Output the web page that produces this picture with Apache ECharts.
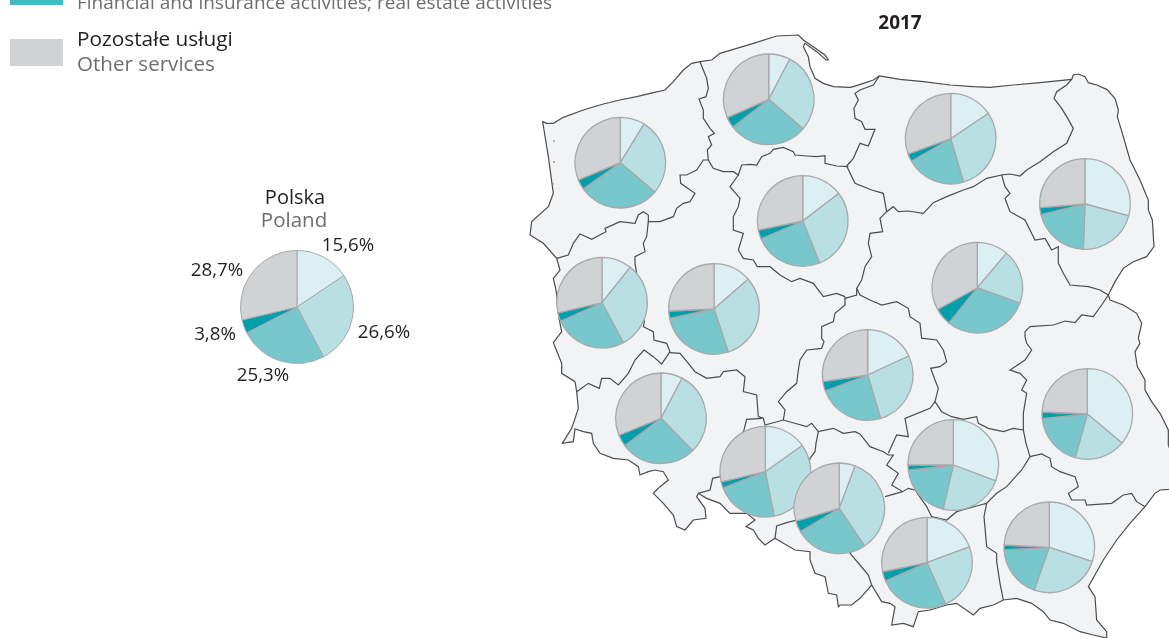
<!DOCTYPE html>
<html>
<head>
<meta charset="utf-8">
<title>Usługi 2017</title>
<style>
    html, body { margin: 0; padding: 0; background: #fff; }
    #chart { width: 1169px; height: 638px; }
</style>
<script src="https://cdn.jsdelivr.net/npm/echarts@6/dist/echarts.min.js"></script>
</head>
<body>
<div id="chart"></div>
<script>
    // udzialy w kolejnosci wskazowek zegara, od godziny 12
    const sectors = ['Sektor 1', 'Sektor 2', 'Sektor 3', 'Działalność finansowa i ubezpieczeniowa; obsługa rynku nieruchomości', 'Pozostałe usługi'];
    const sectorColors = ['#dceff2', '#b8e0e3', '#77c7cd', '#009fab', '#d0d2d4'];

    const poland = [15.6, 26.6, 25.3, 3.8, 28.7];

    const zachodniopomorskie = [8.8, 27.4, 29.0, 3.6, 31.2];
    const pomorskie = [7.7, 28.6, 28.2, 3.9, 31.6];
    const warminskoMazurskie = [15.6, 29.8, 21.4, 2.7, 30.5];
    const podlaskie = [29.2, 21.4, 20.6, 2.5, 26.3];
    const kujawskoPomorskie = [14.6, 29.3, 24.7, 3.2, 28.2];
    const mazowieckie = [11.2, 19.4, 30.2, 6.2, 33.0];
    const lubuskie = [10.7, 31.5, 26.1, 3.1, 28.6];
    const wielkopolskie = [13.6, 31.3, 26.8, 2.6, 25.7];
    const lodzkie = [18.1, 27.3, 23.9, 3.4, 27.3];
    const lubelskie = [36.1, 18.2, 19.1, 2.3, 24.3];
    const dolnoslaskie = [7.7, 30.0, 27.0, 4.2, 31.1];
    const opolskie = [15.2, 31.7, 22.3, 2.2, 28.6];
    const slaskie = [5.7, 34.9, 25.8, 4.0, 29.6];
    const swietokrzyskie = [30.7, 22.9, 19.6, 1.8, 25.0];
    const malopolskie = [19.3, 24.0, 25.1, 3.4, 28.2];
    const podkarpackie = [30.1, 25.3, 18.7, 1.7, 24.2];

    const crop = (ox, oy, pts) => pts.map(([x, y]) => [ox + x / 3, oy + y / 3]);
    const NW = (pts) => crop(520, 30, pts);
    const NE = (pts) => crop(840, 30, pts);
    const SW = (pts) => crop(520, 330, pts);
    const SE = (pts) => crop(840, 330, pts);

    const outline = [
        ...NW([[68, 275], [80, 280], [100, 280], [130, 262], [190, 240], [250, 222], [300, 210], [350, 200], [400, 188], [435, 180], [460, 155], [490, 120], [515, 100], [540, 95], [575, 90], [600, 70], [650, 55], [700, 40], [770, 18], [835, 15], [850, 30], [880, 50], [915, 75], [925, 90], [918, 90], [890, 65], [855, 40], [850, 50], [865, 80], [870, 110], [885, 145], [910, 160], [940, 170], [990, 172]]),
        ...NE([[40, 170], [70, 160], [100, 150], [118, 138], [180, 148], [250, 155], [330, 165], [400, 170], [450, 172], [520, 165], [600, 158], [695, 148], [700, 135], [715, 132], [735, 140], [745, 158], [770, 165], [800, 178], [825, 205], [835, 240], [832, 260], [850, 320], [870, 390], [900, 450], [925, 510], [925, 540], [937, 570], [942, 650], [920, 680], [880, 695], [850, 715], [825, 755], [805, 795], [810, 810], [850, 825], [890, 850], [905, 880], [895, 925]]),
        ...SE([[900, 40], [885, 65], [892, 110], [915, 150], [915, 180], [935, 215], [960, 250], [985, 300], [985, 345], [1005, 400], [1005, 460], [987, 478], [960, 480], [945, 490], [915, 530], [870, 580], [830, 630], [790, 690], [745, 770], [765, 800], [770, 870], [800, 905], [800, 924], [760, 915], [720, 905], [670, 880], [630, 870], [610, 845], [575, 820], [530, 805], [490, 810], [460, 825], [420, 835], [400, 855], [350, 820], [320, 825], [270, 840], [235, 845], [220, 890], [190, 880], [155, 885], [165, 830], [150, 820], [125, 815], [95, 765], [60, 805], [35, 825], [0, 825]]),
        ...SW([[955, 830], [950, 795], [925, 790], [915, 740], [885, 730], [870, 690], [870, 665], [825, 660], [790, 640], [765, 625], [735, 645], [715, 625], [700, 600], [678, 590], [705, 570], [680, 550], [630, 550], [600, 520], [560, 505], [535, 490], [530, 500], [555, 535], [558, 565], [520, 570], [495, 600], [470, 590], [460, 555], [430, 520], [400, 490], [420, 470], [445, 450], [430, 425], [405, 420], [385, 425], [360, 435], [355, 410], [325, 390], [280, 385], [240, 370], [220, 340], [215, 310], [190, 305], [165, 297], [160, 335], [127, 340], [155, 295], [175, 235], [170, 185], [165, 155], [125, 130], [125, 100], [105, 50], [100, 38], [125, 5]]),
        ...NW([[118, 870], [108, 780], [100, 745], [120, 720], [110, 685], [70, 640], [30, 615], [35, 575], [85, 530], [100, 490], [85, 380], [72, 300]])
    ];

    const borders = [
        NW([[540, 95], [550, 120], [560, 145], [565, 175], [558, 200], [537, 207], [550, 240], [550, 265], [570, 295], [583, 310], [565, 320], [575, 345], [562, 360], [565, 390], [580, 415], [610, 425], [640, 425], [655, 435], [665, 405], [690, 403], [710, 405], [725, 380], [750, 370], [760, 358], [790, 352], [820, 365], [825, 375], [860, 378], [890, 380], [915, 377], [915, 400], [950, 408], [985, 410]]),
        NW([[565, 390], [550, 390], [530, 420], [500, 435], [480, 435], [482, 460], [525, 490], [510, 515], [490, 520], [470, 535], [460, 560], [420, 575], [385, 575], [385, 555], [370, 545], [355, 555], [345, 580], [300, 575], [255, 595], [258, 605], [215, 628], [180, 612], [160, 640], [145, 675], [110, 685]]),
        [...NW([[385, 575], [380, 620], [370, 640], [375, 665], [345, 680], [345, 700], [373, 875], [370, 890], [400, 905], [402, 930]]), ...SW([[420, 35], [440, 40], [450, 65], [425, 102], [400, 80], [372, 60], [345, 90], [325, 130], [295, 165], [270, 145], [245, 145], [238, 175], [205, 160], [170, 185]])],
        SW([[450, 68], [480, 70], [505, 100], [525, 125], [560, 145], [600, 140], [610, 125], [650, 120], [675, 140], [670, 185], [710, 195], [715, 260], [730, 265], [735, 285], [790, 270], [860, 290], [875, 280], [895, 305], [940, 295], [970, 310], [1005, 305], [1020, 312], [1050, 350], [1090, 365], [1105, 375], [1120, 375], [1100, 405], [1135, 430], [1115, 465], [1148, 485], [1165, 475], [1185, 480], [1220, 530], [1235, 560], [1280, 570], [1310, 545], [1380, 525], [1400, 520]]),
        SW([[725, 265], [680, 268], [672, 300], [600, 440], [578, 445], [570, 480], [545, 487], [535, 490]]),
        SW([[895, 305], [888, 340], [885, 365], [870, 385], [830, 570], [800, 578], [770, 588], [765, 625]]),
        SW([[1095, 500], [1148, 485]]),
        SE([[133, 530], [30, 670], [60, 705], [85, 735], [95, 765]]),
        [...NW([[975, 800], [950, 790], [910, 800], [880, 760], [840, 745], [815, 755], [780, 735], [750, 710], [712, 710], [700, 690], [670, 685], [655, 660], [670, 610], [640, 600], [640, 560], [655, 530], [660, 505], [630, 470], [655, 435]])],
        [...NE([[20, 408], [45, 460], [95, 480], [130, 490], [140, 545], [120, 565], [128, 605], [90, 610], [85, 640], [95, 680], [75, 710], [65, 750], [50, 775], [50, 795], [15, 805]])],
        [...NE([[20, 408], [40, 385], [60, 340], [85, 348], [105, 298], [75, 298], [65, 275], [45, 265], [42, 235], [55, 210], [45, 190], [60, 180], [100, 165], [118, 138]])],
        [...NW([[975, 800], [975, 825], [945, 850], [940, 875], [905, 890], [905, 925]]), ...SW([[912, 35], [905, 55], [860, 60], [840, 90], [835, 120], [830, 160], [800, 185], [775, 215], [795, 240], [790, 270]])],
        [...NE([[50, 775], [60, 795], [90, 810], [125, 825], [170, 815], [205, 835], [210, 860], [240, 880], [245, 925]]), ...SE([[250, 25], [290, 30], [310, 60], [320, 95], [300, 110], [272, 115], [285, 150], [295, 175], [285, 215], [305, 245], [335, 260], [370, 268], [410, 260], [415, 280], [445, 295], [490, 305], [520, 295], [550, 300], [558, 340], [570, 380], [545, 420], [500, 470], [470, 490], [440, 520], [432, 560], [440, 650], [470, 670], [470, 695], [480, 760], [490, 810]])],
        SE([[285, 215], [270, 235], [195, 265], [205, 320], [170, 315], [145, 370]]),
        SE([[570, 380], [605, 372], [630, 385], [635, 410], [660, 425], [705, 440], [715, 470], [685, 490], [695, 510], [735, 510], [740, 525], [815, 520], [850, 495], [875, 490], [890, 515], [915, 530]]),
        [...SE([[550, 300], [550, 250], [560, 190], [545, 180], [560, 150], [540, 130], [510, 120], [525, 110], [555, 90], [575, 60], [560, 40], [555, 20]]), ...NE([[555, 905], [570, 890], [640, 885], [675, 873], [705, 878], [725, 855], [760, 860], [785, 825], [805, 795]])],
        NE([[805, 795], [780, 780], [745, 770], [690, 765], [670, 730], [655, 700], [655, 650], [635, 660], [615, 625], [585, 630], [555, 570], [510, 545], [495, 505], [510, 490], [495, 470], [485, 435], [510, 432], [540, 438], [560, 420], [600, 395], [640, 365], [680, 340], [700, 295], [680, 260], [665, 235], [642, 205], [650, 185], [680, 165], [695, 148]]),
        NE([[485, 435], [440, 445], [400, 470], [370, 480], [320, 500], [280, 518], [250, 550], [205, 543], [175, 545], [160, 530], [140, 545]])
    ];

    const regions = [
        { name: 'Zachodniopomorskie', values: zachodniopomorskie, center: [620.3, 162.7] },
        { name: 'Pomorskie', values: pomorskie, center: [768.7, 99.3] },
        { name: 'Warmińsko-mazurskie', values: warminskoMazurskie, center: [950.7, 138.7] },
        { name: 'Podlaskie', values: podlaskie, center: [1085, 204] },
        { name: 'Kujawsko-pomorskie', values: kujawskoPomorskie, center: [802.7, 221] },
        { name: 'Mazowieckie', values: mazowieckie, center: [977.3, 287.7] },
        { name: 'Lubuskie', values: lubuskie, center: [602, 302.7] },
        { name: 'Wielkopolskie', values: wielkopolskie, center: [714, 309] },
        { name: 'Łódzkie', values: lodzkie, center: [867.7, 375] },
        { name: 'Lubelskie', values: lubelskie, center: [1087.3, 414] },
        { name: 'Dolnośląskie', values: dolnoslaskie, center: [661, 418.3] },
        { name: 'Opolskie', values: opolskie, center: [765.3, 471.7] },
        { name: 'Śląskie', values: slaskie, center: [839.3, 508.3] },
        { name: 'Świętokrzyskie', values: swietokrzyskie, center: [953.3, 465] },
        { name: 'Małopolskie', values: malopolskie, center: [927, 562.7] },
        { name: 'Podkarpackie', values: podkarpackie, center: [1049.3, 547.3] }
    ];

    // srodki etykiet przy kole Polski
    const polandLabelAt = [[348, 246], [384, 333], [263, 376], [215, 335], [217, 271]];

    const FONT = '"Open Sans", "Noto Sans", sans-serif';
    const DARK = '#231f20';
    const GREY = '#6d6e71';
    const SLICE_BORDER = '#a7a9ac';

    const toSlices = values => values.map((value, i) => ({
        name: sectors[i],
        value,
        itemStyle: { color: sectorColors[i] }
    }));

    echarts.registerMap('polska', {
        type: 'FeatureCollection',
        features: [{
            type: 'Feature',
            properties: { name: 'Polska' },
            geometry: { type: 'Polygon', coordinates: [[...outline, outline[0]]] }
        }]
    });

    const chart = echarts.init(document.getElementById('chart'));

    const text = (x, y, value, fill, size, extra) => ({
        type: 'text',
        x,
        y,
        silent: true,
        style: Object.assign({ text: value, fill, font: `${size}px ${FONT}`, verticalAlign: 'middle' }, extra)
    });
    const speck = (x, y) => ({ type: 'circle', silent: true, z: 10, shape: { cx: x, cy: y, r: 0.9 }, style: { fill: '#8f9194' } });

    chart.setOption({
        animation: false,
        backgroundColor: '#fff',
        geo: {
            map: 'polska',
            silent: true,
            roam: false,
            projection: { project: p => p, unproject: p => p },
            boundingCoords: [[0, 0], [1169, 638]],
            left: 0,
            top: 0,
            width: 1169,
            height: 638,
            label: { show: false },
            itemStyle: { areaColor: '#f2f3f5', borderColor: '#4a4c4f', borderWidth: 1.2 }
        },
        graphic: [
            { type: 'rect', silent: true, shape: { x: 10, y: -10, width: 53, height: 15 }, style: { fill: '#46b9c3' } },
            { type: 'rect', silent: true, shape: { x: 10, y: 39, width: 53, height: 27 }, style: { fill: '#d0d2d4' } },
            text(77, 4, 'Financial and insurance activities; real estate activities', GREY, 19),
            text(77, 40, 'Pozostałe usługi', DARK, 20.8),
            text(77, 65, 'Other services', GREY, 20.6),
            text(295, 198, 'Polska', DARK, 20, { align: 'center' }),
            text(294, 221, 'Poland', GREY, 20.5, { align: 'center' }),
            text(900, 24, '2017', DARK, 19, { align: 'center', font: `bold 19px ${FONT}` }),
            speck(554, 141),
            speck(554, 162),
            speck(553, 184)
        ],
        series: [
            {
                type: 'lines',
                coordinateSystem: 'geo',
                polyline: true,
                silent: true,
                z: 1,
                lineStyle: { color: '#4a4c4f', width: 1.2, opacity: 1 },
                data: borders.map(coords => ({ coords }))
            },
            {
                type: 'pie',
                silent: true,
                center: [297, 307],
                radius: 56.5,
                startAngle: 90,
                clockwise: true,
                data: toSlices(poland),
                itemStyle: { borderColor: SLICE_BORDER, borderWidth: 1 },
                labelLine: { show: false },
                labelLayout: params => ({
                    x: polandLabelAt[params.dataIndex][0],
                    y: polandLabelAt[params.dataIndex][1],
                    align: 'center',
                    verticalAlign: 'middle'
                }),
                label: {
                    show: true,
                    position: 'outside',
                    color: DARK,
                    fontFamily: FONT,
                    fontSize: 18.7,
                    formatter: p => `${p.value.toFixed(1).replace('.', ',')}%`
                }
            },
            ...regions.map((region, i) => ({
                type: 'pie',
                name: region.name,
                silent: true,
                coordinateSystem: 'geo',
                center: region.center,
                radius: 45.3,
                startAngle: 90,
                clockwise: true,
                z: 3 + i,
                data: toSlices(region.values),
                label: { show: false },
                labelLine: { show: false },
                itemStyle: { borderColor: SLICE_BORDER, borderWidth: 1.3 }
            }))
        ]
    });
</script>
</body>
</html>
